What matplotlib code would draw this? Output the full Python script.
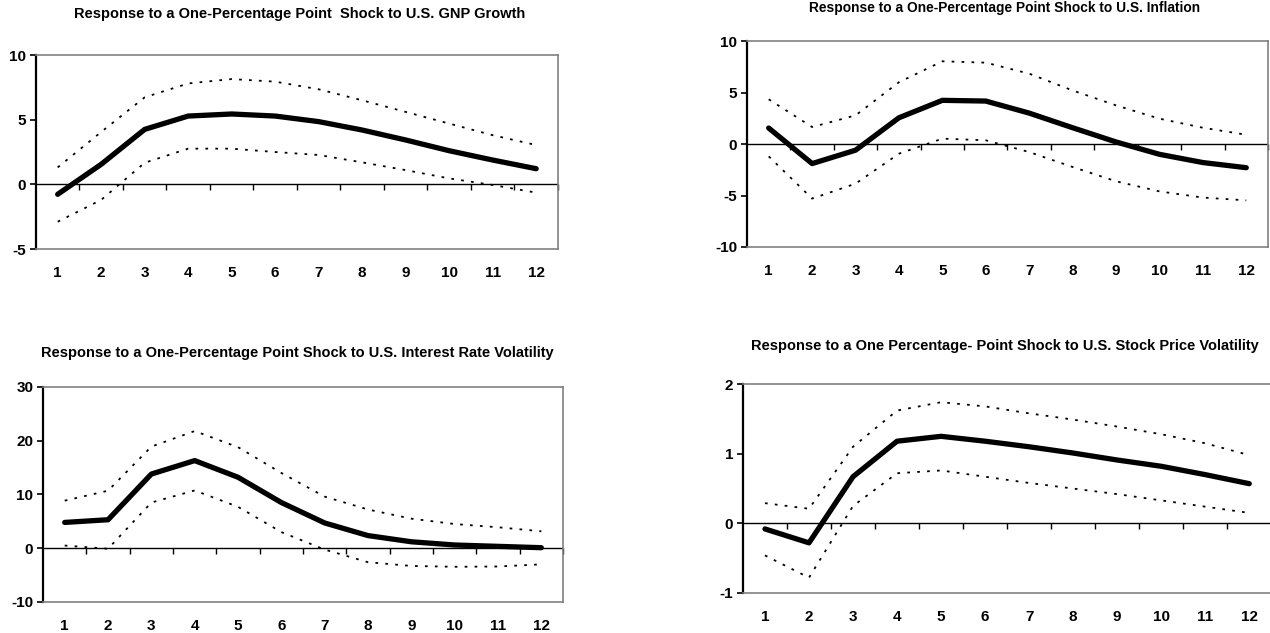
import matplotlib.pyplot as plt

plt.rcParams['font.family'] = ['Liberation Sans', 'DejaVu Sans']
plt.rcParams['font.weight'] = 'bold'
plt.rcParams['axes.unicode_minus'] = False

periods = list(range(1, 13))

# Response to GNP growth shock
gnp_mid = [-0.77, 1.55, 4.25, 5.28, 5.44, 5.28, 4.85, 4.2, 3.43, 2.6, 1.88, 1.21]
gnp_up = [1.31, 4.05, 6.73, 7.8, 8.14, 7.94, 7.35, 6.5, 5.6, 4.7, 3.8, 3.04]
gnp_lo = [-2.89, -1.2, 1.67, 2.76, 2.76, 2.5, 2.27, 1.7, 1.1, 0.46, -0.05, -0.64]

# Response to inflation shock
inf_mid = [1.55, -1.9, -0.6, 2.55, 4.24, 4.17, 3.0, 1.58, 0.2, -1.0, -1.8, -2.3]
inf_up = [4.34, 1.65, 2.78, 6.0, 8.03, 7.9, 6.83, 5.2, 3.75, 2.46, 1.58, 0.9]
inf_lo = [-1.2, -5.3, -3.85, -0.94, 0.52, 0.36, -0.78, -2.23, -3.62, -4.6, -5.2, -5.47]

# Response to interest rate volatility shock
ir_mid = [4.8, 5.3, 13.8, 16.3, 13.2, 8.5, 4.7, 2.35, 1.2, 0.6, 0.35, 0.1]
ir_up = [8.85, 10.7, 18.9, 21.8, 18.8, 14.0, 9.6, 7.2, 5.5, 4.5, 3.9, 3.15]
ir_lo = [0.5, -0.1, 8.5, 10.75, 7.7, 3.0, -0.25, -2.6, -3.3, -3.45, -3.4, -3.0]

# Response to stock price volatility shock
sp_mid = [-0.08, -0.28, 0.67, 1.18, 1.25, 1.18, 1.1, 1.01, 0.91, 0.82, 0.7, 0.57]
sp_up = [0.29, 0.21, 1.1, 1.62, 1.74, 1.68, 1.58, 1.49, 1.39, 1.28, 1.15, 0.98]
sp_lo = [-0.46, -0.78, 0.25, 0.72, 0.76, 0.67, 0.58, 0.5, 0.42, 0.33, 0.24, 0.15]

titles = ['Response to a One-Percentage Point  Shock to U.S. GNP Growth',
          'Response to a One-Percentage Point Shock to U.S. Inflation',
          'Response to a One-Percentage Point Shock to U.S. Interest Rate Volatility',
          'Response to a One Percentage- Point Shock to U.S. Stock Price Volatility']

fig = plt.figure(figsize=(12.7, 6.33), dpi=100)

# rect, series, y range, y ticks, title, title position (fig fraction), title size
panels = [
    ([0.0283, 0.6066, 0.411, 0.3065], gnp_mid, gnp_up, gnp_lo, (-5, 10), [-5, 0, 5, 10], titles[0], (0.236, 0.978), 10.5),
    ([0.5882, 0.6098, 0.4102, 0.3254], inf_mid, inf_up, inf_lo, (-10, 10), [-10, -5, 0, 5, 10], titles[1], (0.7913, 0.987), 9.9),
    ([0.0339, 0.0490, 0.4094, 0.3397], ir_mid, ir_up, ir_lo, (-10, 30), [-10, 0, 10, 20, 30], titles[2], (0.234, 0.442), 10.5),
    ([0.5850, 0.0632, 0.4160, 0.3300], sp_mid, sp_up, sp_lo, (-1, 2), [-1, 0, 1, 2], titles[3], (0.7915, 0.453), 10.5),
]

for rect, mid, up, lo, ylim, yticks, title, tpos, tsize in panels:
    ax = fig.add_axes(rect)
    ax.plot(periods, up, color='black', linestyle=(0, (1.5, 4)), linewidth=1.3)
    ax.plot(periods, lo, color='black', linestyle=(0, (1.5, 4)), linewidth=1.3)
    ax.plot(periods, mid, color='black', linewidth=3.8, solid_capstyle='round', zorder=3)
    ax.axhline(0, color='black', linewidth=1.0, zorder=2)

    ax.set_xlim(0.5, 12.5)
    ax.set_ylim(*ylim)
    ax.set_yticks(yticks)
    ax.set_xticks(periods)
    ax.tick_params(axis='x', length=0, pad=12, labelsize=11)
    ax.tick_params(axis='y', direction='out', length=4, width=1.2, pad=3, labelsize=11)

    for s in ['top', 'right', 'bottom']:
        ax.spines[s].set_color('#808080')
        ax.spines[s].set_linewidth(1.2)
    ax.spines['left'].set_linewidth(1.6)

    # zero line ticks at category boundaries
    loc = (0 - ylim[0]) / (ylim[1] - ylim[0])
    sec = ax.secondary_xaxis(loc)
    sec.set_xticks([p + 0.5 for p in periods])
    sec.xaxis.set_ticks_position('bottom')
    sec.set_xticklabels([])
    sec.tick_params(axis='x', direction='out', length=4, width=1.0,
                    labelbottom=False, labeltop=False)
    for s in sec.spines.values():
        s.set_visible(False)

    fig.text(tpos[0], tpos[1], title, fontsize=tsize, fontweight='bold',
             ha='center', va='center')

fig.savefig('out.png', dpi=100)
